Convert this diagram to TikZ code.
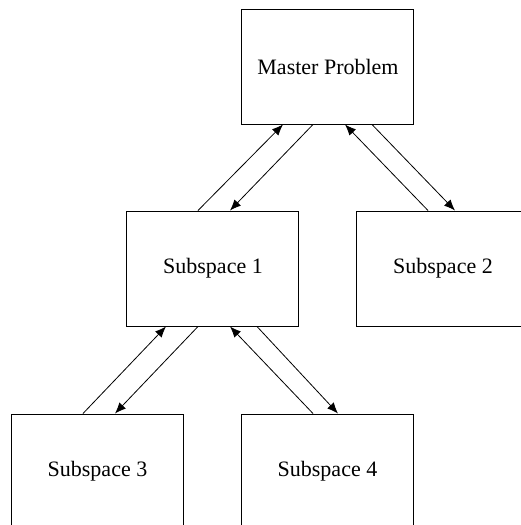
\documentclass[tikz,border=0pt]{standalone}
\usepackage{fontspec}
\setmainfont{Liberation Serif}
\usepackage{tikz}
\usetikzlibrary{positioning, arrows.meta}
\tikzset{
  box/.style={rectangle, draw=black, line width=0.5pt, fill=white,
              minimum width=86pt, minimum height=57.5pt, inner sep=0pt,
              align=center, font=\fontsize{11}{13}\selectfont},
  arr/.style={-{Latex[length=5.5pt, width=4.5pt]}, line width=0.4pt, color=black},
}
\begin{document}
\begin{tikzpicture}
    \useasboundingbox (-164pt,-229.25pt) rectangle (96pt,33.25pt);
    \node[box] (master) {Master Problem};
    \node[box, below=43pt of master, xshift=-57.5pt] (sub1) {Subspace 1};
    \node[box, below=43pt of master, xshift=57.5pt] (sub2) {Subspace 2};
    \node[box, below=43.5pt of sub1, xshift=-57.75pt] (sub3) {Subspace 3};
    \node[box, below=43.5pt of sub1, xshift=57.25pt] (sub4) {Subspace 4};
    % master <-> subspace 1, 2
    \draw[arr] ([xshift=-7.5pt]sub1.north) -- ([xshift=-22.5pt]master.south);
    \draw[arr] ([xshift=-7.5pt]master.south) -- ([xshift=8.5pt]sub1.north);
    \draw[arr] ([xshift=-7.5pt]sub2.north) -- ([xshift=8.5pt]master.south);
    \draw[arr] ([xshift=22pt]master.south) -- ([xshift=6pt]sub2.north);
    % subspace 1 <-> subspace 3, 4
    \draw[arr] ([xshift=-7.25pt]sub3.north) -- ([xshift=-23.5pt]sub1.south);
    \draw[arr] ([xshift=-7.5pt]sub1.south) -- ([xshift=8.75pt]sub3.north);
    \draw[arr] ([xshift=-7.25pt]sub4.north) -- ([xshift=8.5pt]sub1.south);
    \draw[arr] ([xshift=22pt]sub1.south) -- ([xshift=5.25pt]sub4.north);
\end{tikzpicture}
\end{document}
